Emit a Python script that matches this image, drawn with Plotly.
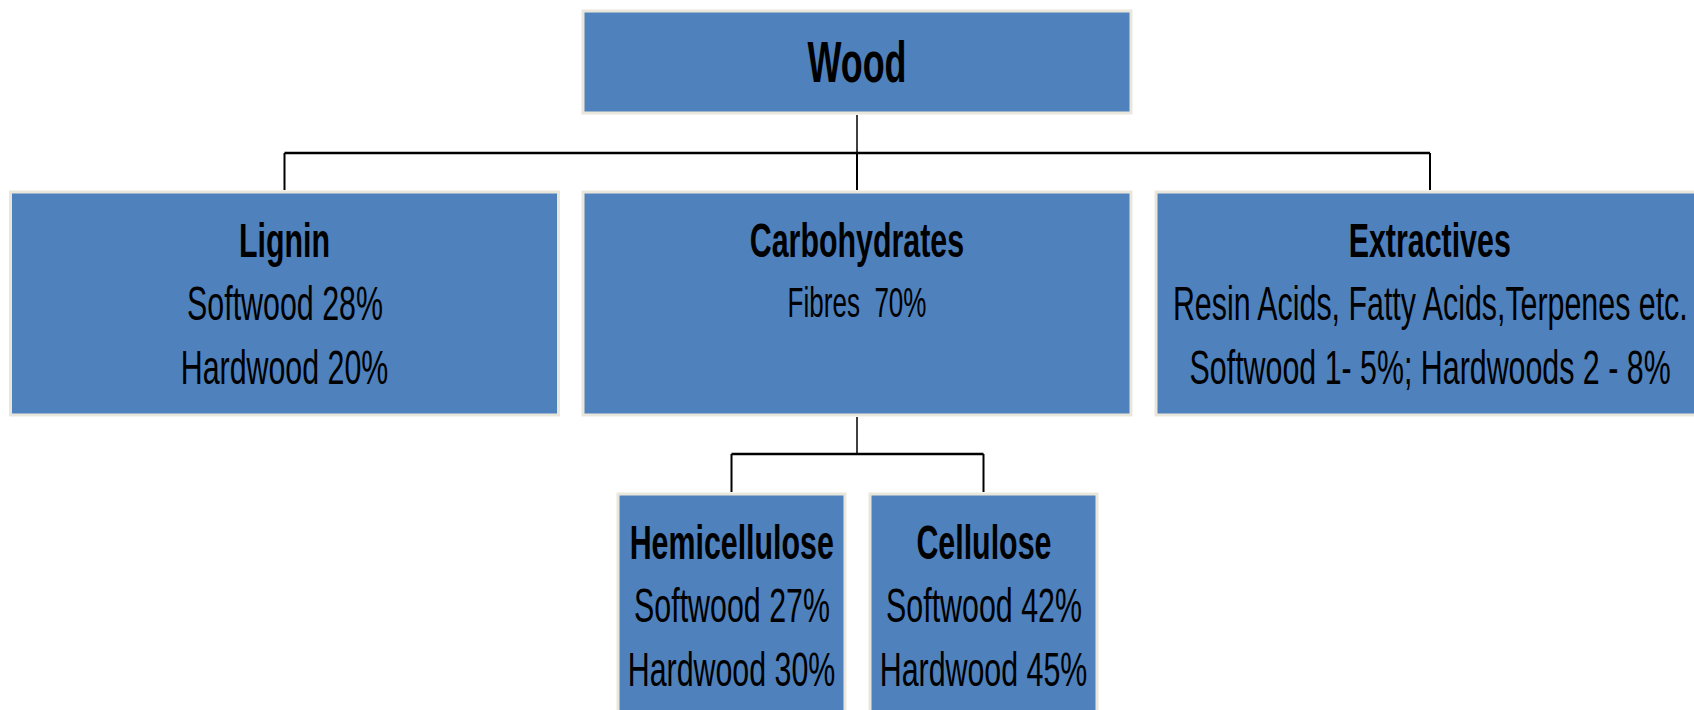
import plotly.graph_objects as go

# ---------------- data ----------------
node_ids = ["wood", "lignin", "carb", "extr", "hemi", "cell"]
node_titles = ["Wood", "Lignin", "Carbohydrates", "Extractives", "Hemicellulose", "Cellulose"]
node_details = [
    [],
    ["Softwood 28%", "Hardwood 20%"],
    ["Fibres\u00a0 70%"],
    ["Resin Acids, Fatty Acids,Terpenes etc.", "Softwood 1- 5%; Hardwoods 2 - 8%"],
    ["Softwood 27%", "Hardwood 30%"],
    ["Softwood 42%", "Hardwood 45%"],
]
node_parents = [None, "wood", "wood", "wood", "carb", "carb"]
node_levels = [0, 1, 1, 1, 2, 2]

# ---------------- layout geometry (pixels) ----------------
W, H = 1694, 710
level_top = {0: 11, 1: 192, 2: 494}
level_height = {0: 102, 1: 223, 2: 240}
level_width = {0: 548, 1: 548, 2: 227}
node_cx = {"wood": 857, "lignin": 284.5, "carb": 857, "extr": 1430, "hemi": 731.5, "cell": 983.5}
bus_y = {1: 153, 2: 454}
line_offsets = [48, 111, 175]

FILL = "#4F81BD"
EDGE = "#E9E7DC"
FONT = "Liberation Sans, Arial, sans-serif"

fig = go.Figure()
shapes = []
annotations = []

# boxes
for nid, lvl in zip(node_ids, node_levels):
    cx = node_cx[nid]
    w = level_width[lvl]
    y0 = level_top[lvl]
    shapes.append(dict(type="rect", xref="x", yref="y",
                       x0=cx - w / 2, x1=cx + w / 2, y0=y0, y1=y0 + level_height[lvl],
                       fillcolor=FILL, line=dict(color=EDGE, width=3), layer="below"))

# connectors
lvl_of = dict(zip(node_ids, node_levels))
for lvl in (1, 2):
    kids = [n for n, l in zip(node_ids, node_levels) if l == lvl]
    parent = node_parents[node_ids.index(kids[0])]
    plvl = lvl_of[parent]
    px = node_cx[parent]
    pbottom = level_top[plvl] + level_height[plvl]
    by = bus_y[lvl]
    xs = [node_cx[k] for k in kids]
    shapes.append(dict(type="line", x0=px, x1=px, y0=pbottom + 2, y1=by,
                       line=dict(color="black", width=1.5)))
    shapes.append(dict(type="line", x0=min(xs), x1=max(xs), y0=by, y1=by,
                       line=dict(color="black", width=2.5)))
    for x in xs:
        shapes.append(dict(type="line", x0=x, x1=x, y0=by, y1=level_top[lvl] - 2,
                           line=dict(color="black", width=2)))

# texts
for nid, lvl, title, det in zip(node_ids, node_levels, node_titles, node_details):
    cx = node_cx[nid]
    top = level_top[lvl]
    if lvl == 0:
        annotations.append(dict(x=cx, y=top + 50, text=title, showarrow=False,
                                xanchor="center", yanchor="middle",
                                font=dict(family=FONT, size=58, color="black", weight="bold")))
        continue
    annotations.append(dict(x=cx, y=top + line_offsets[0], text=title, showarrow=False,
                            xanchor="center", yanchor="middle",
                            font=dict(family=FONT, size=49, color="black", weight="bold")))
    for i, line in enumerate(det):
        size = 49 if len(det) > 1 else 42
        annotations.append(dict(x=cx, y=top + line_offsets[i + 1] - (1 if size == 42 else 0),
                                text=line, showarrow=False,
                                xanchor="center", yanchor="middle",
                                font=dict(family=FONT, size=size, color="black")))

fig.update_layout(
    width=W, height=H,
    margin=dict(l=0, r=0, t=0, b=0),
    paper_bgcolor="white", plot_bgcolor="white",
    xaxis=dict(range=[0, W], visible=False, fixedrange=True),
    yaxis=dict(range=[H, 0], visible=False, fixedrange=True),
    shapes=shapes, annotations=annotations, showlegend=False,
)

post = """
document.body.style.margin = '0';
document.body.style.overflow = 'hidden';
var st = document.createElement('style');
st.textContent = '.annotation-text{transform-box:fill-box;transform-origin:50% 50%;transform:scaleX(0.62);}';
document.head.appendChild(st);
"""

fig.write_html("out.html", post_script=post, config={"displayModeBar": False})
